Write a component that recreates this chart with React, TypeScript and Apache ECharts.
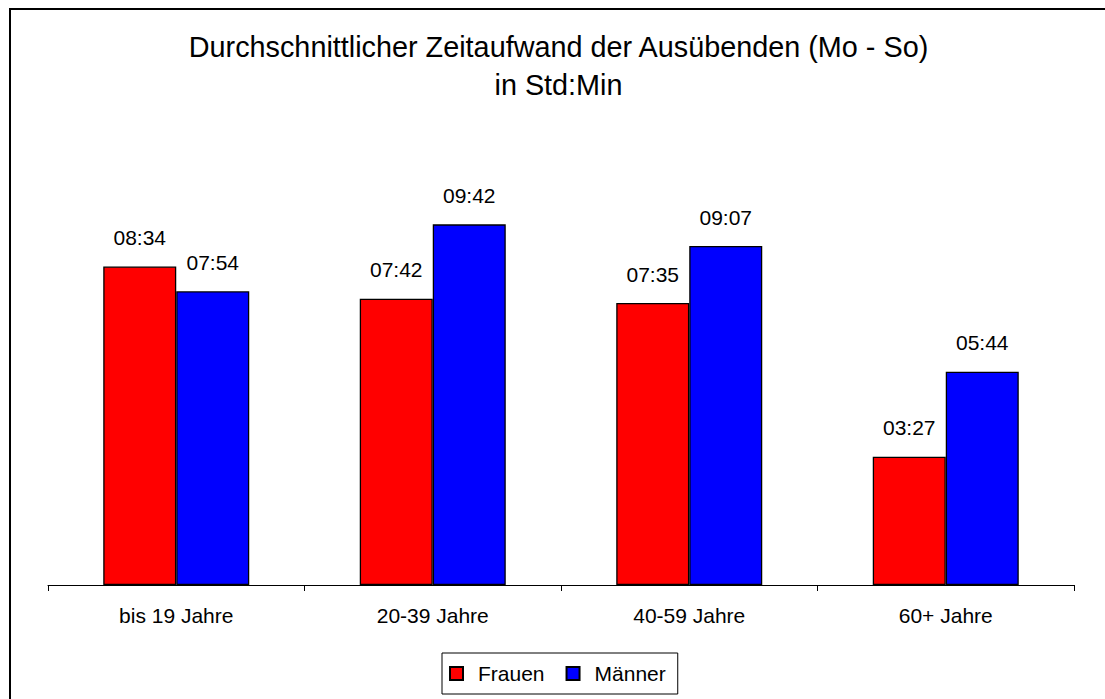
import React, { useEffect, useRef } from "react";
import * as echarts from "echarts";

const categories = ["bis 19 Jahre", "20-39 Jahre", "40-59 Jahre", "60+ Jahre"];
// values in minutes (Std:Min)
const frauen = [514, 462, 455, 207];
const maenner = [474, 582, 547, 344];
const seriesNames = ["Frauen", "Männer"];
const titleLines = ["Durchschnittlicher Zeitaufwand der Ausübenden (Mo - So)", "in Std:Min"];

const FONT = "'Liberation Sans', Arial, sans-serif";

function fmt(min: number): string {
  const h = Math.floor(min / 60);
  const m = min % 60;
  return String(h).padStart(2, "0") + ":" + String(m).padStart(2, "0");
}

export default function App() {
  const ref = useRef<HTMLDivElement>(null);
  useEffect(() => {
    if (!ref.current) return;
    const chart = echarts.init(ref.current, null, { renderer: "svg" });
    const label = {
      show: true,
      position: "top" as const,
      distance: 18.5,
      color: "#000",
      fontFamily: FONT,
      fontSize: 21,
      lineHeight: 21,
      formatter: (p: any) => fmt(p.value),
    };
    const titleStyle = (text: string) => ({
      text,
      fill: "#000",
      font: "normal 28.8px " + FONT,
      textAlign: "center",
      textVerticalAlign: "middle",
    });
    chart.setOption({
      animation: false,
      backgroundColor: "#fff",
      legend: {
        data: seriesNames,
        left: 442,
        top: 653,
        orient: "horizontal",
        padding: [10, 12, 10, 7],
        itemGap: 21,
        itemWidth: 13,
        itemHeight: 13,
        icon: "rect",
        borderColor: "#000",
        borderWidth: 1,
        borderRadius: 0,
        textStyle: {
          fontFamily: FONT,
          fontSize: 21,
          lineHeight: 21,
          color: "#000",
          padding: [0, 0, 0, 10],
        },
      },
      grid: {
        left: 48,
        right: 31,
        top: 176,
        bottom: 114,
        containLabel: false,
      },
      xAxis: {
        type: "category",
        data: categories,
        axisLine: { lineStyle: { color: "#000", width: 1 } },
        axisTick: { show: true, length: 6, lineStyle: { color: "#000" } },
        axisLabel: {
          color: "#000",
          fontFamily: FONT,
          fontSize: 21,
          lineHeight: 21,
          margin: 20,
        },
      },
      yAxis: {
        type: "value",
        min: 0,
        max: 660,
        show: false,
        splitLine: { show: false },
      },
      series: [
        {
          name: seriesNames[0],
          type: "bar",
          data: frauen,
          barWidth: 73,
          barGap: "0%",
          itemStyle: { color: "#ff0000", borderColor: "#000", borderWidth: 1.3 },
          label,
        },
        {
          name: seriesNames[1],
          type: "bar",
          data: maenner,
          barWidth: 73,
          barGap: "0%",
          itemStyle: { color: "#0000ff", borderColor: "#000", borderWidth: 1.3 },
          label,
        },
      ],
      graphic: [
        {
          type: "text",
          x: 558.5,
          y: 47,
          style: titleStyle(titleLines[0]),
          silent: true,
        },
        {
          type: "text",
          x: 558.5,
          y: 85,
          style: titleStyle(titleLines[1]),
          silent: true,
        },
        {
          type: "rect",
          shape: { x: 10, y: 9, width: 1200, height: 800 },
          style: { fill: "none", stroke: "#000", lineWidth: 2 },
          silent: true,
          z: 100,
        },
      ],
    });
    return () => chart.dispose();
  }, []);
  return (
    <div
      ref={ref}
      style={{ position: "fixed", left: 0, top: 0, width: 1105, height: 699 }}
    />
  );
}
